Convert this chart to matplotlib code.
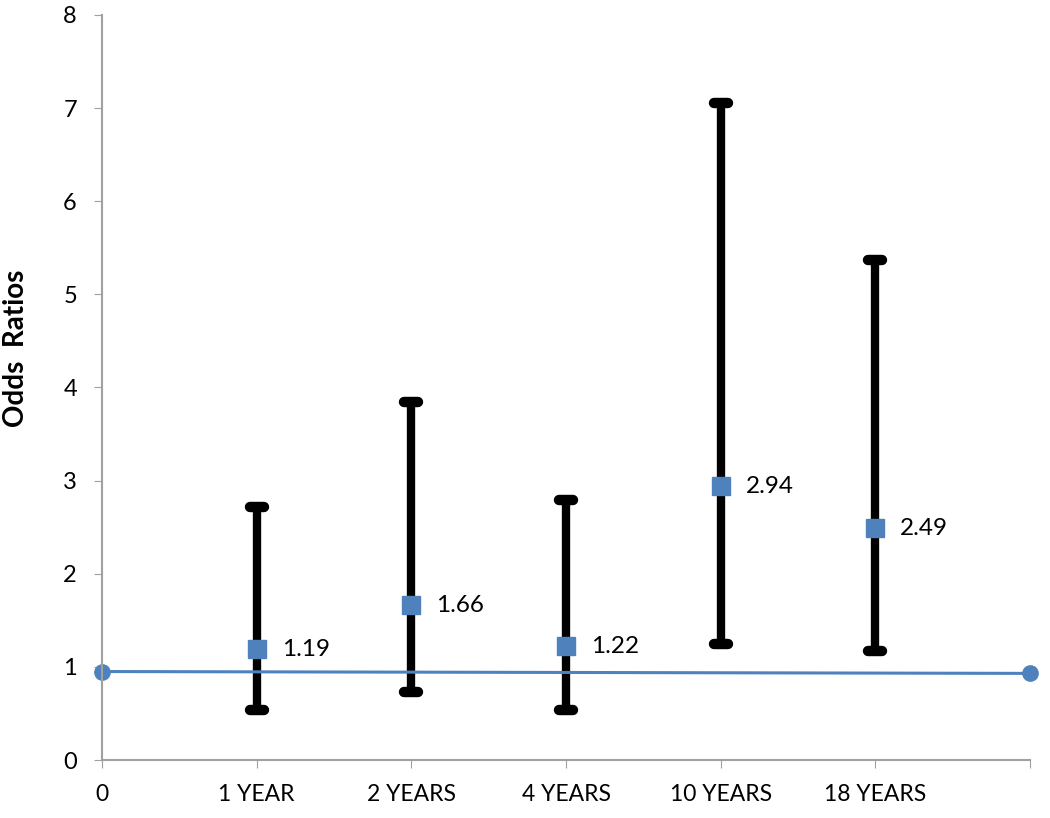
import matplotlib
matplotlib.use('Agg')
import matplotlib.pyplot as plt

plt.rcParams['font.family'] = ['Lato', 'DejaVu Sans']

labels = ['0', '1 YEAR', '2 YEARS', '4 YEARS', '10 YEARS', '18 YEARS', '']
pos = [1, 2, 3, 4, 5]
odds = [1.19, 1.66, 1.22, 2.94, 2.49]
lower = [0.54, 0.73, 0.54, 1.25, 1.17]
upper = [2.72, 3.84, 2.79, 7.05, 5.37]
ref_x = [0, 6]
ref_y = [0.95, 0.93]

fig = plt.figure(figsize=(10.5, 8.18), dpi=100)
ax = fig.add_axes([0.0971, 0.0709, 0.8839, 0.9108])

blue = '#4f81bd'
ax.plot(ref_x, ref_y, '-', color=blue, lw=2.2, marker='o', ms=11, zorder=2, clip_on=False)

# whiskers with rounded caps
ax.vlines(pos, lower, upper, color='black', lw=6, zorder=1)
cw = 0.045
for ends in (lower, upper):
    ax.hlines(ends, [p - cw for p in pos], [p + cw for p in pos],
              color='black', lw=7.5, capstyle='round', zorder=1)

ax.plot(pos, odds, 's', color=blue, ms=13, zorder=3)
for x, o in zip(pos, odds):
    ax.annotate(f'{o:.2f}', (x, o), xytext=(18, 0), textcoords='offset points',
                va='center', ha='left', fontsize=17.5)

ax.set_xlim(0, 6)
ax.set_ylim(0, 8)
ax.set_xticks(range(7))
ax.set_xticklabels(labels, fontsize=16.5)
ax.set_yticks(range(9))
ax.tick_params(axis='y', labelsize=17, length=6, color='#a0a0a0', pad=12)
ax.tick_params(axis='x', length=6, color='#a0a0a0', pad=11)
ax.set_ylabel('Odds  Ratios', fontsize=20, fontweight='bold')
ax.yaxis.set_label_coords(-0.079, 0.553)

for s in ['top', 'right']:
    ax.spines[s].set_visible(False)
for s in ['left', 'bottom']:
    ax.spines[s].set_color('#a0a0a0')
    ax.spines[s].set_linewidth(1.5)

fig.savefig('out.png', dpi=100)
